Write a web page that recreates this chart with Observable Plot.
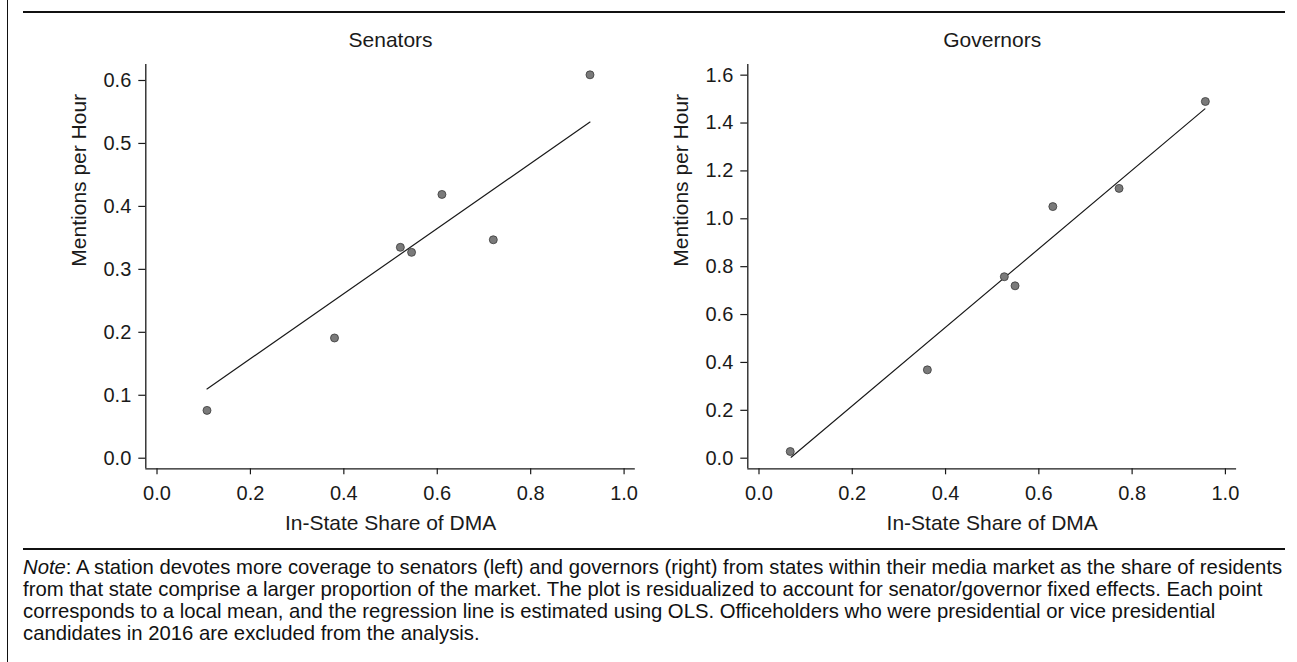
<!DOCTYPE html>
<html>
<head>
<meta charset="utf-8">
<script src="https://cdn.jsdelivr.net/npm/d3@7"></script>
<script src="https://cdn.jsdelivr.net/npm/@observablehq/plot@0.6"></script>
<style>
  html, body { margin: 0; padding: 0; background: #fff; }
  #page { position: relative; width: 1297px; height: 662px; overflow: hidden;
          font-family: "Liberation Sans", Arial, Helvetica, sans-serif; color: #1a1a1a; }
  .rule { position: absolute; background: #111; }
  .panel { position: absolute; top: 0; }
  #note { position: absolute; left: 23px; top: 556px; font-size: 20.3px; line-height: 22px; white-space: nowrap; color: #111; }
  #note div { white-space: nowrap; }
</style>
</head>
<body>
<div id="page">
  <div class="rule" style="left:6.5px;top:0;width:1.6px;height:662px;"></div>
  <div class="rule" style="left:23px;top:10.8px;width:1262px;height:2.5px;"></div>
  <div class="rule" style="left:23px;top:547.8px;width:1262px;height:2.5px;"></div>
  <div id="left" class="panel" style="left:0px;"></div>
  <div id="right" class="panel" style="left:600px;"></div>
  <div id="note">
    <div id="l1"><i>Note</i>: A station devotes more coverage to senators (left) and governors (right) from states within their media market as the share of residents</div>
    <div id="l2">from that state comprise a larger proportion of the market. The plot is residualized to account for senator/governor fixed effects. Each point</div>
    <div id="l3">corresponds to a local mean, and the regression line is estimated using OLS. Officeholders who were presidential or vice presidential</div>
    <div id="l4">candidates in 2016 are excluded from the analysis.</div>
  </div>
</div>
<script>
// ---- Data ----
const panelTitles = ["Senators", "Governors"];
const xTitle = "In-State Share of DMA";
const yTitle = "Mentions per Hour";

const senX = [0.107, 0.380, 0.521, 0.545, 0.610, 0.720, 0.927];
const senY = [0.076, 0.191, 0.335, 0.327, 0.419, 0.347, 0.609];
const senFitX = [0.107, 0.927];
const senFitY = [0.110, 0.534];

const govX = [0.067, 0.361, 0.526, 0.549, 0.630, 0.772, 0.957];
const govY = [0.028, 0.369, 0.758, 0.720, 1.051, 1.127, 1.490];
const govFitX = [0.069, 0.956];
const govFitY = [0.004, 1.459];

const xTicks = [0, 0.2, 0.4, 0.6, 0.8, 1.0];
const senYTicks = [0, 0.1, 0.2, 0.3, 0.4, 0.5, 0.6];
const govYTicks = [0, 0.2, 0.4, 0.6, 0.8, 1.0, 1.2, 1.4, 1.6];

const xDomain = [-0.024, 1.024];
const senYDomain = [-0.0168, 0.6254];
const govYDomain = [-0.0443, 1.6445];

const FONT = '"Liberation Sans", Arial, Helvetica, sans-serif';

function panel({title, xs, ys, fxs, fys, yDomain, yTicks, marginLeft, marginRight}) {
  const pts = xs.map((x, i) => ({x, y: ys[i]}));
  const fit = fxs.map((x, i) => ({x, y: fys[i]}));
  return Plot.plot({
    width: 650,
    height: 540,
    marginTop: 64,
    marginBottom: 71.7,
    marginLeft,
    marginRight,
    x: {domain: xDomain},
    y: {domain: yDomain},
    style: {fontFamily: FONT, fontSize: "20px", color: "#1a1a1a", background: "transparent", overflow: "visible"},
    marks: [
      Plot.axisX({ticks: xTicks, tickSize: 6, tickPadding: 11, tickFormat: d3.format(".1f"), label: null, fontSize: 20, strokeWidth: 1.2}),
      Plot.axisY({ticks: yTicks, tickSize: 7, tickPadding: 7.5, tickFormat: d3.format(".1f"), label: null, fontSize: 20, strokeWidth: 1.2}),
      Plot.ruleY([yDomain[0]], {stroke: "#1a1a1a", strokeWidth: 1.3}),
      Plot.ruleX([xDomain[0]], {stroke: "#1a1a1a", strokeWidth: 1.3}),
      Plot.line(fit, {x: "x", y: "y", stroke: "#1a1a1a", strokeWidth: 1.2}),
      Plot.dot(pts, {x: "x", y: "y", r: 4, fill: "#7a7a7a", stroke: "#3a3a3a", strokeWidth: 0.8}),
      Plot.text([title], {frameAnchor: "top", dy: -24, fontSize: 21, lineAnchor: "middle"}),
      Plot.text([xTitle], {frameAnchor: "bottom", dy: 54, fontSize: 21, lineAnchor: "middle"}),
      Plot.text([yTitle], {frameAnchor: "left", dx: -67, rotate: -90, fontSize: 21, lineAnchor: "middle"})
    ]
  });
}

document.getElementById("left").append(panel({
  title: panelTitles[0], xs: senX, ys: senY, fxs: senFitX, fys: senFitY,
  yDomain: senYDomain, yTicks: senYTicks, marginLeft: 145.3, marginRight: 15.2
}));
document.getElementById("right").append(panel({
  title: panelTitles[1], xs: govX, ys: govY, fxs: govFitX, fys: govFitY,
  yDomain: govYDomain, yTicks: govYTicks, marginLeft: 147.3, marginRight: 13.9
}));
</script>
</body>
</html>
